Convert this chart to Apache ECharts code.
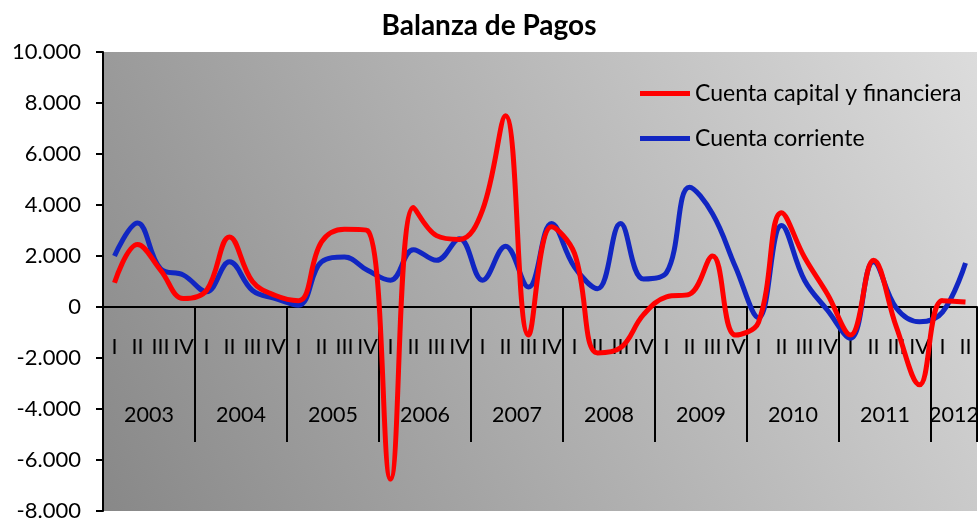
<!DOCTYPE html>
<html>
<head>
<meta charset="utf-8">
<script src="https://cdn.jsdelivr.net/npm/echarts@6/dist/echarts.min.js"></script>
<style>
html,body{margin:0;padding:0;background:#fff;}
#c{width:979px;height:520px;}
</style>
</head>
<body>
<div id="c"></div>
<script>
const quarters = ['I','II','III','IV','I','II','III','IV','I','II','III','IV','I','II','III','IV','I','II','III','IV',
  'I','II','III','IV','I','II','III','IV','I','II','III','IV','I','II','III','IV','I','II'];
const years = ['2003','2004','2005','2006','2007','2008','2009','2010','2011','2012'];
const quartersPerYear = [4,4,4,4,4,4,4,4,4,2];
const capitalFinanciera = [950,2450,1450,330,650,2750,1000,450,250,2550,3050,3000,
  -6750,3900,2800,2650,3800,7500,-1100,3150,2100,-1800,-1600,-300,
  400,500,2000,-1100,-600,3700,1950,500,-1100,1830,-800,-3050,250,200];
const cuentaCorriente = [2000,3290,1500,1250,600,1770,650,330,70,1770,1960,1440,
  1050,2250,1830,2680,1050,2380,780,3270,1570,720,3270,1100,
  1350,4700,3660,1570,-420,3200,1050,-130,-1230,1770,-50,-580,-200,1730];

const FONT = 'Lato';
const yearCenters = {};
let acc = 0;
years.forEach((y, i) => { yearCenters[acc + quartersPerYear[i] / 2] = y; acc += quartersPerYear[i]; });

const chart = echarts.init(document.getElementById('c'), null, {renderer: 'canvas'});
chart.setOption({
  backgroundColor: '#ffffff',
  animation: false,
  title: {
    text: 'Balanza de Pagos',
    left: 484,
    textAlign: 'center',
    top: 7,
    textStyle: {fontFamily: FONT, fontWeight: 'bold', fontSize: 28, color: '#000'}
  },
  legend: {
    orient: 'vertical',
    left: 635,
    top: 77,
    itemGap: 22,
    itemWidth: 50,
    itemHeight: 5,
    icon: 'rect',
    data: ['Cuenta capital y financiera', 'Cuenta corriente'],
    textStyle: {fontFamily: FONT, fontSize: 23, color: '#000'}
  },
  grid: {
    left: 103, right: 2, top: 52, bottom: 9,
    outerBoundsMode: 'none',
    containLabel: false,
    show: true,
    borderWidth: 0,
    backgroundColor: new echarts.graphic.LinearGradient(0, 1, 1, 0, [
      {offset: 0, color: '#888888'},
      {offset: 1, color: '#dcdcdc'}
    ])
  },
  xAxis: [{
    type: 'category',
    data: quarters,
    boundaryGap: true,
    axisLine: {onZero: true, lineStyle: {color: '#000', width: 2}},
    axisTick: {show: true, length: 135, interval: (i) => i % 4 === 0, lineStyle: {color: '#000', width: 2}},
    axisLabel: {interval: 0, inside: true, margin: 153, fontFamily: FONT, fontSize: 21.5, color: '#000'},
    splitLine: {show: false}
  }, {
    type: 'value',
    min: 0, max: quarters.length, interval: 1,
    position: 'bottom',
    axisLine: {show: false, onZero: false},
    axisTick: {show: false},
    splitLine: {show: false},
    axisLabel: {
      inside: true, margin: 85, fontFamily: FONT, fontSize: 21.5, color: '#000',
      showMinLabel: true, showMaxLabel: true, hideOverlap: false,
      formatter: (v) => yearCenters[v] || ''
    }
  }],
  yAxis: {
    type: 'value',
    min: -8000, max: 10000, interval: 2000,
    axisLine: {show: true, onZero: false, lineStyle: {color: '#000', width: 2}},
    axisTick: {show: true, length: 7, lineStyle: {color: '#000', width: 2}},
    splitLine: {show: false},
    axisLabel: {
      margin: 22, fontFamily: FONT, fontSize: 22, color: '#000',
      formatter: (v) => {
        const s = Math.abs(v).toString().replace(/\B(?=(\d{3})+(?!\d))/g, '.');
        return (v < 0 ? '-' : '') + s;
      }
    }
  },
  series: [{
    name: 'Cuenta corriente',
    type: 'line',
    data: cuentaCorriente,
    smooth: 0.4,
    symbol: 'none',
    z: 2,
    lineStyle: {color: '#1126c2', width: 5},
    itemStyle: {color: '#1126c2'}
  }, {
    name: 'Cuenta capital y financiera',
    type: 'line',
    data: capitalFinanciera,
    smooth: 0.4,
    symbol: 'none',
    z: 3,
    lineStyle: {color: '#ff0000', width: 5},
    itemStyle: {color: '#ff0000'}
  }]
});
</script>
</body>
</html>
